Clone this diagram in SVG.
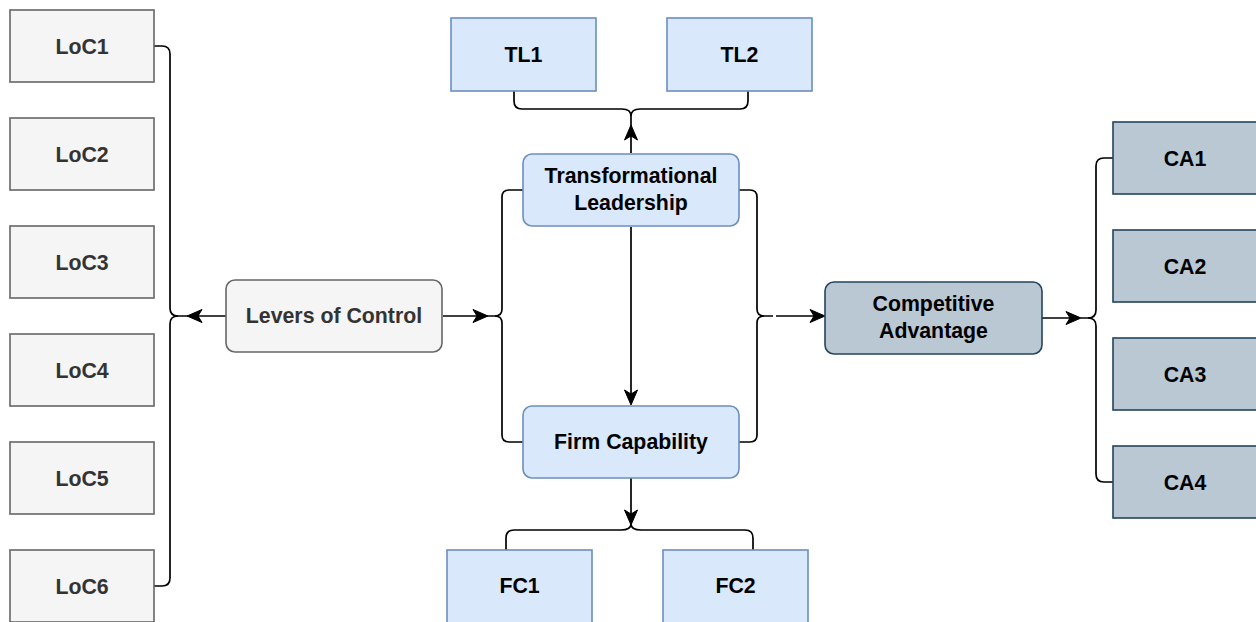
<svg xmlns="http://www.w3.org/2000/svg" xmlns:xlink="http://www.w3.org/1999/xlink" width="1256" height="622" viewBox="0 0 1256 622">
  <style>
    text { font-family: "Liberation Sans", Arial, sans-serif; font-weight: bold; font-size: 21.3px; text-anchor: middle; }
    .grey rect { fill: #f5f5f5; stroke: #666666; stroke-width: 1.6; }
    .grey text { fill: #333333; }
    .blue rect { fill: #dae8fc; stroke: #6c8ebf; stroke-width: 1.6; }
    .blue text { fill: #000000; }
    .slate rect { fill: #bac8d3; stroke: #23445d; stroke-width: 1.6; }
    .slate text { fill: #000000; }
    .edge { fill: none; stroke: #000000; stroke-width: 1.7; }
    .head { fill: #000000; stroke: #000000; stroke-width: 1; stroke-linejoin: miter; }
  </style>
  <defs>
    <!-- classic notched arrowhead, tip at the origin, pointing along +x -->
    <path id="ah" class="head" d="M0,0 L-15,-6.5 L-11,0 L-15,6.5 Z"/>
  </defs>

  <rect width="1256" height="622" fill="#ffffff"/>

  <!-- connectors -->
  <g id="connectors">
    <!-- levers of control fan-out to LoC1..LoC6 -->
    <path class="edge" d="M154,46 H162 Q170,46 170,54 V308 Q170,316 178,316 H188"/>
    <path class="edge" d="M154,586 H162 Q170,586 170,578 V324 Q170,316 178,316"/>
    <path class="edge" d="M226,316 H192"/>
    <use xlink:href="#ah" transform="translate(187,316) rotate(180)"/>

    <!-- levers of control to TL and FC -->
    <path class="edge" d="M443,316 H487"/>
    <use xlink:href="#ah" transform="translate(488,316)"/>
    <path class="edge" d="M523,190 H509 Q502,190 502,197 V309 Q502,316 495,316 H487"/>
    <path class="edge" d="M523,442 H509 Q502,442 502,435 V323 Q502,316 495,316"/>

    <!-- TL and FC to competitive advantage -->
    <path class="edge" d="M739,190 H750 Q757,190 757,197 V309 Q757,316 764,316 H773"/>
    <path class="edge" d="M739,442 H750 Q757,442 757,435 V323 Q757,316 764,316"/>
    <path class="edge" d="M776,316 H820"/>
    <use xlink:href="#ah" transform="translate(825,316)"/>

    <!-- TL to FC -->
    <path class="edge" d="M631,227 V400"/>
    <use xlink:href="#ah" transform="translate(631,405) rotate(90)"/>

    <!-- TL to TL1 / TL2 -->
    <path class="edge" d="M631,153 V116"/>
    <use xlink:href="#ah" transform="translate(631,125) rotate(-90)"/>
    <path class="edge" d="M514,91 V101 Q514,109 522,109 H622 Q631,109 631,116"/>
    <path class="edge" d="M748,91 V101 Q748,109 740,109 H640 Q631,109 631,116"/>

    <!-- FC to FC1 / FC2 -->
    <path class="edge" d="M631,478 V524"/>
    <use xlink:href="#ah" transform="translate(631,525) rotate(90)"/>
    <path class="edge" d="M631,524 Q631,530 621,530 H514 Q506,530 506,538 V550"/>
    <path class="edge" d="M631,524 Q631,530 641,530 H745 Q753,530 753,538 V550"/>

    <!-- competitive advantage to CA1..CA4 -->
    <path class="edge" d="M1042,318 H1078"/>
    <use xlink:href="#ah" transform="translate(1081,318)"/>
    <path class="edge" d="M1113,158 H1104 Q1096,158 1096,166 V310 Q1096,318 1088,318 H1081"/>
    <path class="edge" d="M1113,482 H1104 Q1096,482 1096,474 V326 Q1096,318 1088,318"/>
  </g>

  <!-- levers of control items -->
  <g id="loc1" class="grey"><rect x="10" y="10" width="144" height="72"/><text x="82" y="53.5">LoC1</text></g>
  <g id="loc2" class="grey"><rect x="10" y="118" width="144" height="72"/><text x="82" y="161.5">LoC2</text></g>
  <g id="loc3" class="grey"><rect x="10" y="226" width="144" height="72"/><text x="82" y="269.5">LoC3</text></g>
  <g id="loc4" class="grey"><rect x="10" y="334" width="144" height="72"/><text x="82" y="377.5">LoC4</text></g>
  <g id="loc5" class="grey"><rect x="10" y="442" width="144" height="72"/><text x="82" y="485.5">LoC5</text></g>
  <g id="loc6" class="grey"><rect x="10" y="550" width="144" height="72"/><text x="82" y="593.5">LoC6</text></g>

  <g id="levers" class="grey"><rect x="226" y="280" width="216" height="72" rx="9"/><text x="334" y="323">Levers of Control</text></g>

  <!-- transformational leadership -->
  <g id="tl1" class="blue"><rect x="451" y="18" width="145" height="73"/><text x="523.5" y="62">TL1</text></g>
  <g id="tl2" class="blue"><rect x="667" y="18" width="145" height="73"/><text x="739.5" y="62">TL2</text></g>
  <g id="tl" class="blue"><rect x="523" y="154" width="216" height="72" rx="9"/><text x="631" y="183">Transformational</text><text x="631" y="210">Leadership</text></g>

  <!-- firm capability -->
  <g id="fc" class="blue"><rect x="523" y="406" width="216" height="72" rx="9"/><text x="631" y="449">Firm Capability</text></g>
  <g id="fc1" class="blue"><rect x="447" y="550" width="145" height="74"/><text x="519.5" y="593">FC1</text></g>
  <g id="fc2" class="blue"><rect x="663" y="550" width="145" height="74"/><text x="735.5" y="593">FC2</text></g>

  <!-- competitive advantage -->
  <g id="ca" class="slate"><rect x="825" y="282" width="217" height="72" rx="9"/><text x="933.5" y="311">Competitive</text><text x="933.5" y="338">Advantage</text></g>
  <g id="ca1" class="slate"><rect x="1113" y="122" width="146" height="72"/><text x="1185" y="165.5">CA1</text></g>
  <g id="ca2" class="slate"><rect x="1113" y="230" width="146" height="72"/><text x="1185" y="273.5">CA2</text></g>
  <g id="ca3" class="slate"><rect x="1113" y="338" width="146" height="72"/><text x="1185" y="381.5">CA3</text></g>
  <g id="ca4" class="slate"><rect x="1113" y="446" width="146" height="72"/><text x="1185" y="489.5">CA4</text></g>
</svg>
